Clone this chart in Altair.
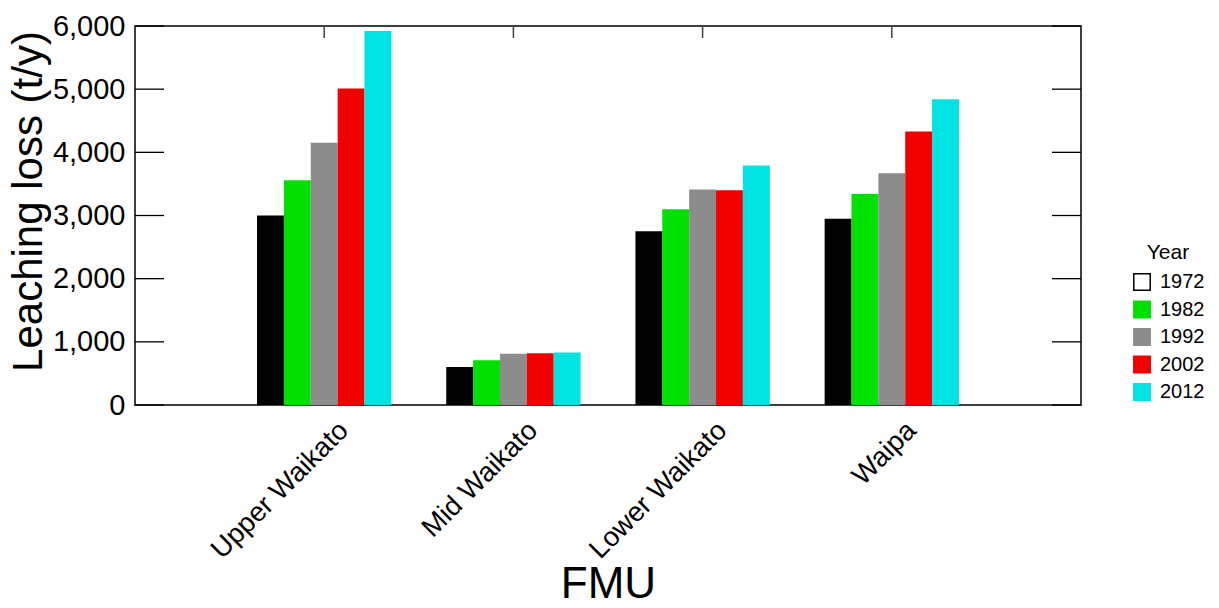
import altair as alt
import pandas as pd

fmus = ["Upper Waikato", "Mid Waikato", "Lower Waikato", "Waipa"]
years = ["1972", "1982", "1992", "2002", "2012"]
values = {
    "Upper Waikato": [3000, 3560, 4150, 5010, 5920],
    "Mid Waikato": [600, 710, 810, 820, 830],
    "Lower Waikato": [2750, 3100, 3410, 3400, 3790],
    "Waipa": [2950, 3340, 3670, 4330, 4840],
}
bar_colors = ["#000000", "#00e000", "#8c8c8c", "#f20000", "#00e3e3"]
legend_fill = ["#ffffff", "#00e000", "#8c8c8c", "#f20000", "#00e3e3"]
legend_stroke = ["#000000", "#00e000", "#8c8c8c", "#f20000", "#00e3e3"]
y_ticks = [0, 1000, 2000, 3000, 4000, 5000, 6000]

rows = []
for f in fmus:
    for y, v in zip(years, values[f]):
        rows.append({"FMU": f, "Year": y, "Leaching": v})
df = pd.DataFrame(rows)
ydf = pd.DataFrame({"Leaching": y_ticks})
xdf = pd.DataFrame({"FMU": fmus})
ldf = pd.DataFrame({"Year": years})

W, H = 946, 379
FONT = "Liberation Sans"

xscale = alt.Scale(domain=fmus, paddingInner=0.29, paddingOuter=0.645)
yscale = alt.Scale(domain=[0, 6000], nice=False)

xaxis = alt.Axis(
    title="FMU", titleFontSize=44, titleFont=FONT, titleFontWeight="normal",
    titleColor="black", titleBaseline="alphabetic", titleX=W / 2, titleY=192,
    labelAngle=-45, labelAlign="right", labelBaseline="middle",
    labelFontSize=27.5, labelFont=FONT, labelColor="black", labelLimit=0,
    labelOffset=20, labelPadding=21, labelOverlap=False, labelBound=False,
    ticks=False, domain=False, grid=False,
)
yaxis = alt.Axis(
    title="Leaching loss (t/y)", titleFontSize=42, titleFont=FONT,
    titleFontWeight="normal", titleColor="black", titleAngle=-90,
    titleBaseline="alphabetic", titleAlign="center", titleX=-94, titleY=175,
    values=y_ticks, format=",d", labelFontSize=29, labelFont=FONT,
    labelColor="black", labelPadding=10, labelBaseline="middle",
    ticks=False, domain=False, grid=False,
)

bars = alt.Chart(df).mark_bar(strokeWidth=0).encode(
    x=alt.X("FMU:N", scale=xscale, axis=xaxis, sort=fmus),
    xOffset=alt.XOffset("Year:N", scale=alt.Scale(paddingInner=0, paddingOuter=0)),
    y=alt.Y("Leaching:Q", scale=yscale, axis=yaxis),
    color=alt.Color("Year:N", scale=alt.Scale(domain=years, range=bar_colors), legend=None),
)

legend = alt.Legend(
    title="Year", orient="none", legendX=997, legendY=216, padding=0,
    titleFont=FONT, titleFontSize=21, titleFontWeight="normal", titleColor="black",
    titleAnchor="middle", titlePadding=9,
    labelFont=FONT, labelFontSize=20, labelColor="black", labelOffset=8,
    symbolType="square", symbolSize=270, symbolStrokeWidth=1.5, rowPadding=3.5,
    symbolOpacity=1,
)
legend_layer = alt.Chart(ldf).mark_square(
    clip=True, filled=True, size=270, strokeWidth=1.5, opacity=1
).encode(
    x=alt.value(-3000), y=alt.value(-3000),
    fill=alt.Fill("Year:N", scale=alt.Scale(domain=years, range=legend_fill), legend=legend),
    stroke=alt.Stroke("Year:N", scale=alt.Scale(domain=years, range=legend_stroke), legend=legend),
)

yt_left = alt.Chart(ydf).mark_rule(color="black", strokeWidth=1.3).encode(
    y=alt.Y("Leaching:Q", scale=yscale, axis=yaxis),
    x=alt.value(0), x2=alt.value(29),
)
yt_right = alt.Chart(ydf).mark_rule(color="black", strokeWidth=1.3).encode(
    y=alt.Y("Leaching:Q", scale=yscale, axis=yaxis),
    x=alt.value(W - 29), x2=alt.value(W),
)
xt_top = alt.Chart(xdf).mark_rule(color="#444444", strokeWidth=1.5).encode(
    x=alt.X("FMU:N", scale=xscale, axis=xaxis, sort=fmus),
    y=alt.value(0), y2=alt.value(12),
)

chart = alt.layer(legend_layer, bars, yt_left, yt_right, xt_top).properties(
    width=W, height=H,
    background="white",
    autosize=alt.AutoSizeParams(type="none"),
    padding={"left": 127, "top": 18, "right": 130, "bottom": 193},
).configure_view(stroke="black", strokeWidth=1.5)

chart.save("out.html", embed_options={"renderer": "svg", "actions": False})
